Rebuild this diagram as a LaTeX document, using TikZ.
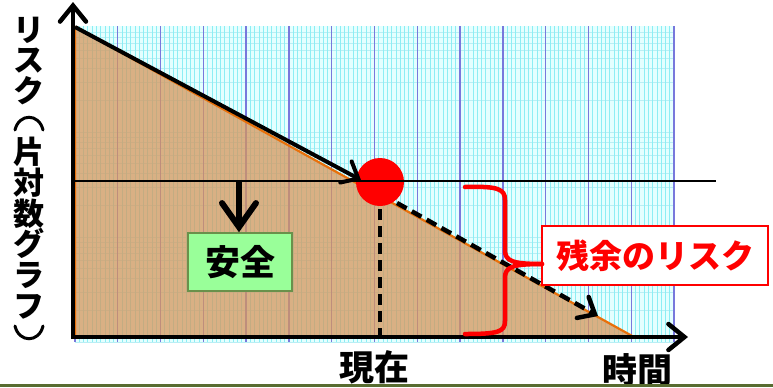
\documentclass[tikz,border=0pt]{standalone}
\usepackage{fontspec}
\newfontfamily\jp{Noto Sans CJK JP}
\usetikzlibrary{arrows.meta}
\definecolor{gridbg}{RGB}{228,255,255}
\definecolor{gridminor}{RGB}{140,238,244}
\definecolor{gridmajor}{RGB}{120,120,220}
\definecolor{gridh}{RGB}{185,238,244}
\definecolor{riskfill}{RGB}{214,150,92}
\definecolor{riskedge}{RGB}{232,112,10}
\definecolor{safefill}{RGB}{153,255,153}
\definecolor{safeedge}{RGB}{105,145,75}
\definecolor{olive}{RGB}{88,108,48}
\definecolor{bred}{RGB}{255,0,0}
\tikzset{
  axisline/.style={line width=4.5bp,-{Straight Barb[length=16bp,width=26bp,line cap=round]}},
  mainarrow/.style={line width=4bp,-{Straight Barb[length=14bp,width=24bp,line cap=round]}},
  dashline/.style={line width=4.5bp,dash pattern=on 11bp off 6bp},
  jptext/.style={font=\jp\bfseries\fontsize{33bp}{33bp}\selectfont,inner sep=0pt},
  boxlabel/.style={draw=bred,line width=1.5bp,fill=white,text=bred,minimum width=226bp,minimum height=59bp,jptext},
  safebox/.style={draw=safeedge,line width=1.5bp,fill=safefill,minimum width=104bp,minimum height=58bp,jptext,font=\jp\bfseries\fontsize{35bp}{35bp}\selectfont},
  nowdot/.style={circle,fill=bred,minimum size=48bp,inner sep=0pt},
  vparen/.style={line width=3bp,line cap=round},
  bracestyle/.style={bred,line width=4.5bp,line cap=round},
}
\begin{document}
\begin{tikzpicture}[x=1bp,y=-1bp]
\useasboundingbox (0,0) rectangle (773,387);
% graph paper
\fill[gridbg] (75,26) rectangle (675,342);
\foreach \d in {0,1,2}{
  \foreach \k in {1,...,9}{
    \pgfmathsetmacro{\yy}{342-105*(\d+log10(\k))}
    \draw[gridh,line width=0.6bp] (75,\yy) -- (675,\yy);
  }
}
\foreach \i in {0,...,140}{
  \draw[gridminor,line width=0.75bp] ({75+\i*4.2786},26) -- ({75+\i*4.2786},342);
}
\foreach \i in {0,...,14}{
  \draw[gridmajor,line width=1.3bp] ({75+\i*42.786},26) -- ({75+\i*42.786},342);
}
% coordinates
\coordinate (ytop) at (75,27);
\coordinate (orig) at (75,337);
\coordinate (xend) at (634,337);
% risk triangle
\fill[riskfill,opacity=0.75] (ytop) -- (orig) -- (xend) -- cycle;
\draw[riskedge,line width=2.2bp] (orig) -- (ytop) -- (xend);
% current point
\node[nowdot] (now) at (380,182) {};
% main arrow
\coordinate (p1) at (361,180);
\draw[mainarrow] (ytop) -- (p1);
% threshold line
\coordinate (hl) at (75,181);
\coordinate (hr) at (716,181);
\draw[line width=2bp] (hl) -- (hr);
% axes
\coordinate (yax0) at (73,339);
\coordinate (yax1) at (73,2);
\coordinate (xax0) at (71,337);
\coordinate (xax1) at (688,337);
\draw[axisline] (yax0) -- (yax1);
\draw[axisline] (xax0) -- (xax1);
% dashed lines
\coordinate (nowfoot) at (380,336);
\draw[dashline] (now.south) ++(0,3) -- (nowfoot);
\coordinate (d0) at (397,203);
\coordinate (d1) at (598,316);
\draw[dashline,-{Straight Barb[length=14bp,width=24bp,line cap=round]}] (d0) -- (d1);
% safe
\node[safebox] (safe) at (240,262) {安全};
\coordinate (dn0) at (239,181);
\draw[line width=6bp,-{Straight Barb[length=24bp,width=34bp,line cap=round]}] (dn0) -- (safe.north -| dn0);
% residual risk label and brace
\node[boxlabel] (resid) at (655,255.5) {残余のリスク};
\coordinate (tip) at (542,264);
\draw[bracestyle]
  (465,187) .. controls (498,186) and (505,189) .. (505,200) -- (505,250)
  .. controls (505,261) and (512,264) .. (tip);
\draw[bracestyle]
  (tip) .. controls (512,264) and (505,267) .. (505,278) -- (505,321)
  .. controls (505,332) and (498,334) .. (465,334);
% texts
\node[jptext,font=\jp\bfseries\fontsize{35bp}{35bp}\selectfont] (nowlbl) at (374,367) {現在};
\node[jptext,font=\jp\bfseries\fontsize{35bp}{35bp}\selectfont] (timelbl) at (637,370) {時間};
\node[jptext,align=center,font=\jp\bfseries\fontsize{31bp}{30.7bp}\selectfont] (ylbl) at (29,184)
  {リ\\ス\\ク\\\phantom{片}\\片\\対\\数\\グ\\ラ\\フ\\\phantom{片}};
% vertical-form parentheses of the axis title
\coordinate (lp0) at (15,130);
\coordinate (lp1) at (43,130);
\coordinate (rp0) at (15,326);
\coordinate (rp1) at (43,326);
\draw[vparen] (lp0) .. controls (19,113) and (39,113) .. (lp1);
\draw[vparen] (rp0) .. controls (19,343) and (39,343) .. (rp1);
% bottom rule
\fill[olive] (0,384) rectangle (773,387);
\end{tikzpicture}
\end{document}
